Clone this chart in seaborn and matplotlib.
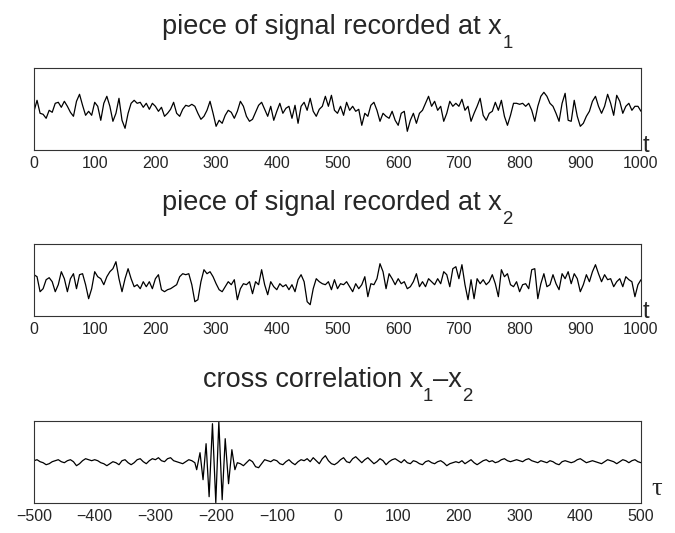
import numpy as np
import matplotlib
matplotlib.use("Agg")
import matplotlib.pyplot as plt
import seaborn as sns

# --- data (every 5 samples) ---
t = np.arange(0, 1005, 5)

sig1 = [-3, 8, -5, -6, -10, -2, -4, 5, 6, 1,
        7, 2, -4, -8, 7, 14, 3, -7, -3, -7,
        6, 2, -12, 5, 12, 2, -13, -5, 10, -12,
        -20, -5, 5, 8, 5, 6, 1, 5, -1, 5,
        2, -3, 1, -8, -5, -1, 6, -5, -8, -1,
        3, 2, 4, 2, -5, -11, -8, -2, 7, -5,
        -18, -12, -15, -7, -2, -4, -10, -3, 7, 2,
        -8, -13, -11, -4, 3, 6, -1, -8, 2, -12,
        -3, 5, -5, 0, 2, -10, 3, -15, 2, 6,
        -2, 10, -3, -8, -1, 2, 12, 2, 13, -2,
        -5, 2, -7, 6, -2, 2, -3, -1, -17, -5,
        -8, 3, 6, -2, -13, -5, -8, -10, -3, -12,
        -17, -5, -3, -23, -12, -5, -15, -5, -2, 5,
        12, 2, 7, -2, 2, -13, -5, 7, 2, 5,
        2, 9, -2, 2, -13, -5, 2, 10, -7, -12,
        -5, -3, 6, -2, 8, -8, -17, -7, 5, 5,
        4, 5, 2, 5, -2, -13, 2, 12, 16, 12,
        5, 2, -5, -13, 5, 15, -12, -13, 8, -8,
        -18, -15, -8, -3, 7, 12, 2, -5, 2, 14,
        5, -7, 13, 7, -5, 2, 5, -2, 2, 2,
        -3]

sig2 = [7, 5, -10, -7, 2, 4, 0, -10, -3, 10,
        3, -10, 3, 8, -7, 7, 8, -3, -17, -7,
        10, 5, 3, -3, 5, 10, 13, 20, 3, -10,
        3, 13, 3, -5, -3, -7, 0, -5, 0, -7,
        3, 7, -8, -10, -8, -7, -5, -3, 5, 8,
        7, 8, -3, -20, -18, 0, 12, 8, 10, 5,
        -2, -8, -10, -5, 0, -3, 2, -18, -7, -2,
        -3, 0, -12, 0, -3, 12, -3, -13, 0, -5,
        -8, -2, -5, -3, -8, -3, -10, 2, 7, 0,
        -20, -23, -7, 3, 0, -2, -3, 0, -8, 2,
        -7, -2, -3, 0, -5, -10, -2, -7, -3, 5,
        -15, -2, -3, 3, 18, 10, -7, 8, 3, -3,
        3, -2, 0, -7, -5, 0, 8, -5, 0, -5,
        3, 0, -3, 3, -2, 10, 7, -5, 13, 15,
        3, 17, -3, -18, 2, -17, 3, -2, 2, -3,
        0, 7, -2, -15, 12, 5, 8, -3, -5, 0,
        -10, -3, -2, -7, 12, 13, -17, -2, 8, -5,
        -3, 7, -2, -8, 8, 3, 10, -2, 8, 3,
        -10, -3, 7, 0, 10, 17, 8, 0, 7, 2,
        3, -5, 0, 3, -5, 5, 2, 0, -15, -3,
        2]

tau = np.arange(-500, 505, 5)
corr_noise = [1, 2, 0, -1, -3, -2, 0, 1, 2, 0, -1, 1, 2, 0, -4, -2, 1, 3, 2, 1,
              2, 1, -1, -2, -4, -2, 0, -1, -3, 1, 2, -1, -3, -1, 2, 3, 0, -2, 1, 3,
              2, 4, 1, 0, 3, 4, 1, 0, -1, -2, 0, 2, 1, 0, 3, 4, 1, -2, -4, -1,
              0, 0, 0, 0, 0, 0, 0, 0, -2, -4, -1, 2, 0, -5, -6, -2, 2, 1, 0, 2,
              1, -2, -3, 0, 2, -1, -3, 0, 2, 1, 3, 0, 4, 1, -2, 3, 6, 1, -2, -3,
              -1, 2, 4, 0, -1, 3, 5, 2, -1, 2, 4, 1, -2, 0, 3, 1, -3, 0, 2, 3,
              1, -1, 2, -1, -2, 1, 0, -2, -3, 0, 1, -1, -2, 0, 1, -1, -4, -2, -1, 0,
              -1, 1, -2, 0, 2, -1, -3, -1, 1, 2, 0, 1, -1, 0, 2, 3, 1, 0, 1, 2,
              1, 0, 2, 3, 1, 0, -1, 1, 0, -1, 1, 0, -2, -3, 0, 1, 0, -1, 0, 2,
              3, 1, -1, 0, 1, 0, -1, -2, 0, 2, 1, 0, -2, 0, 2, 1, -1, 1, 2, 0, -1]

# the correlation peak, sampled finer
pulse_tau = [-235, -232, -226.5, -221.5, -216.5, -211.5, -206, -200.5,
             -195.5, -190, -185, -179.5, -174, -169, -165]
pulse_val = [-1, -8, 9, -18, 18, -35, 38, -41, 40, -38, 23, -22, 12, -8, -1]

corr_noise = np.array(corr_noise)
left = tau < -235
right = tau > -165
corr_tau = np.concatenate([tau[left], pulse_tau, tau[right]])
corr_val = np.concatenate([corr_noise[left], pulse_val, corr_noise[right]])

# --- figure ---
sns.set_style("white")
plt.rcParams["font.family"] = ["Liberation Sans", "DejaVu Sans"]

W, H = 675, 533
fig = plt.figure(figsize=(W / 100, H / 100), dpi=100)


def px_axes(l, top, r, bottom):
    return fig.add_axes([l / W, 1 - bottom / H, (r - l) / W, (bottom - top) / H])


def style(ax, xmin, xmax, ticks, ylim):
    ax.set_xlim(xmin, xmax)
    ax.set_ylim(*ylim)
    ax.set_xticks(ticks)
    ax.set_yticks([])
    ax.set_xlabel("")
    ax.set_ylabel("")
    ax.tick_params(axis="x", direction="in", length=3, width=0.8,
                   labelsize=11.5, pad=4, color="#333333")
    for s in ax.spines.values():
        s.set_color("#333333")
        s.set_linewidth(0.8)


ax1 = px_axes(34, 68, 641, 150)
sns.lineplot(x=t, y=sig1, ax=ax1, color="black", linewidth=0.9)
style(ax1, 0, 1000, range(0, 1001, 100), (-41.7, 40.3))

ax2 = px_axes(34, 244, 641, 316)
sns.lineplot(x=t, y=sig2, ax=ax2, color="black", linewidth=0.9)
style(ax2, 0, 1000, range(0, 1001, 100), (-34.3, 37.7))

ax3 = px_axes(34, 421, 641, 503)
sns.lineplot(x=corr_tau, y=corr_val, ax=ax3, color="black", linewidth=0.9)
style(ax3, -500, 500, range(-500, 501, 100), (-41.3, 40.7))


def put_title(parts, y_base, xc=337.5, size=19.5):
    r = fig.canvas.get_renderer()
    items = []
    total = 0
    for s, sub in parts:
        fs = size * 0.69 if sub else size
        txt = fig.text(0, 0, s, fontsize=fs, va="baseline", ha="left")
        w = txt.get_window_extent(r).width
        items.append((txt, w, sub))
        total += w
    x = xc - total / 2
    for txt, w, sub in items:
        yb = y_base + (14 if sub else 0)
        txt.set_position((x / W, 1 - yb / H))
        x += w


put_title([("piece of signal recorded at x", False), ("1", True)], 34)
put_title([("piece of signal recorded at x", False), ("2", True)], 210)
put_title([("cross correlation x", False), ("1", True),
           ("\u2013x", False), ("2", True)], 387)

fig.text(643 / W, 1 - 152 / H, "t", fontsize=17, va="baseline")
fig.text(643 / W, 1 - 318 / H, "t", fontsize=17, va="baseline")
fig.text(651 / W, 1 - 495 / H, "\u03c4", fontsize=19, va="baseline",
         family=["Liberation Serif", "DejaVu Serif"])

fig.savefig("out.png", dpi=100)
